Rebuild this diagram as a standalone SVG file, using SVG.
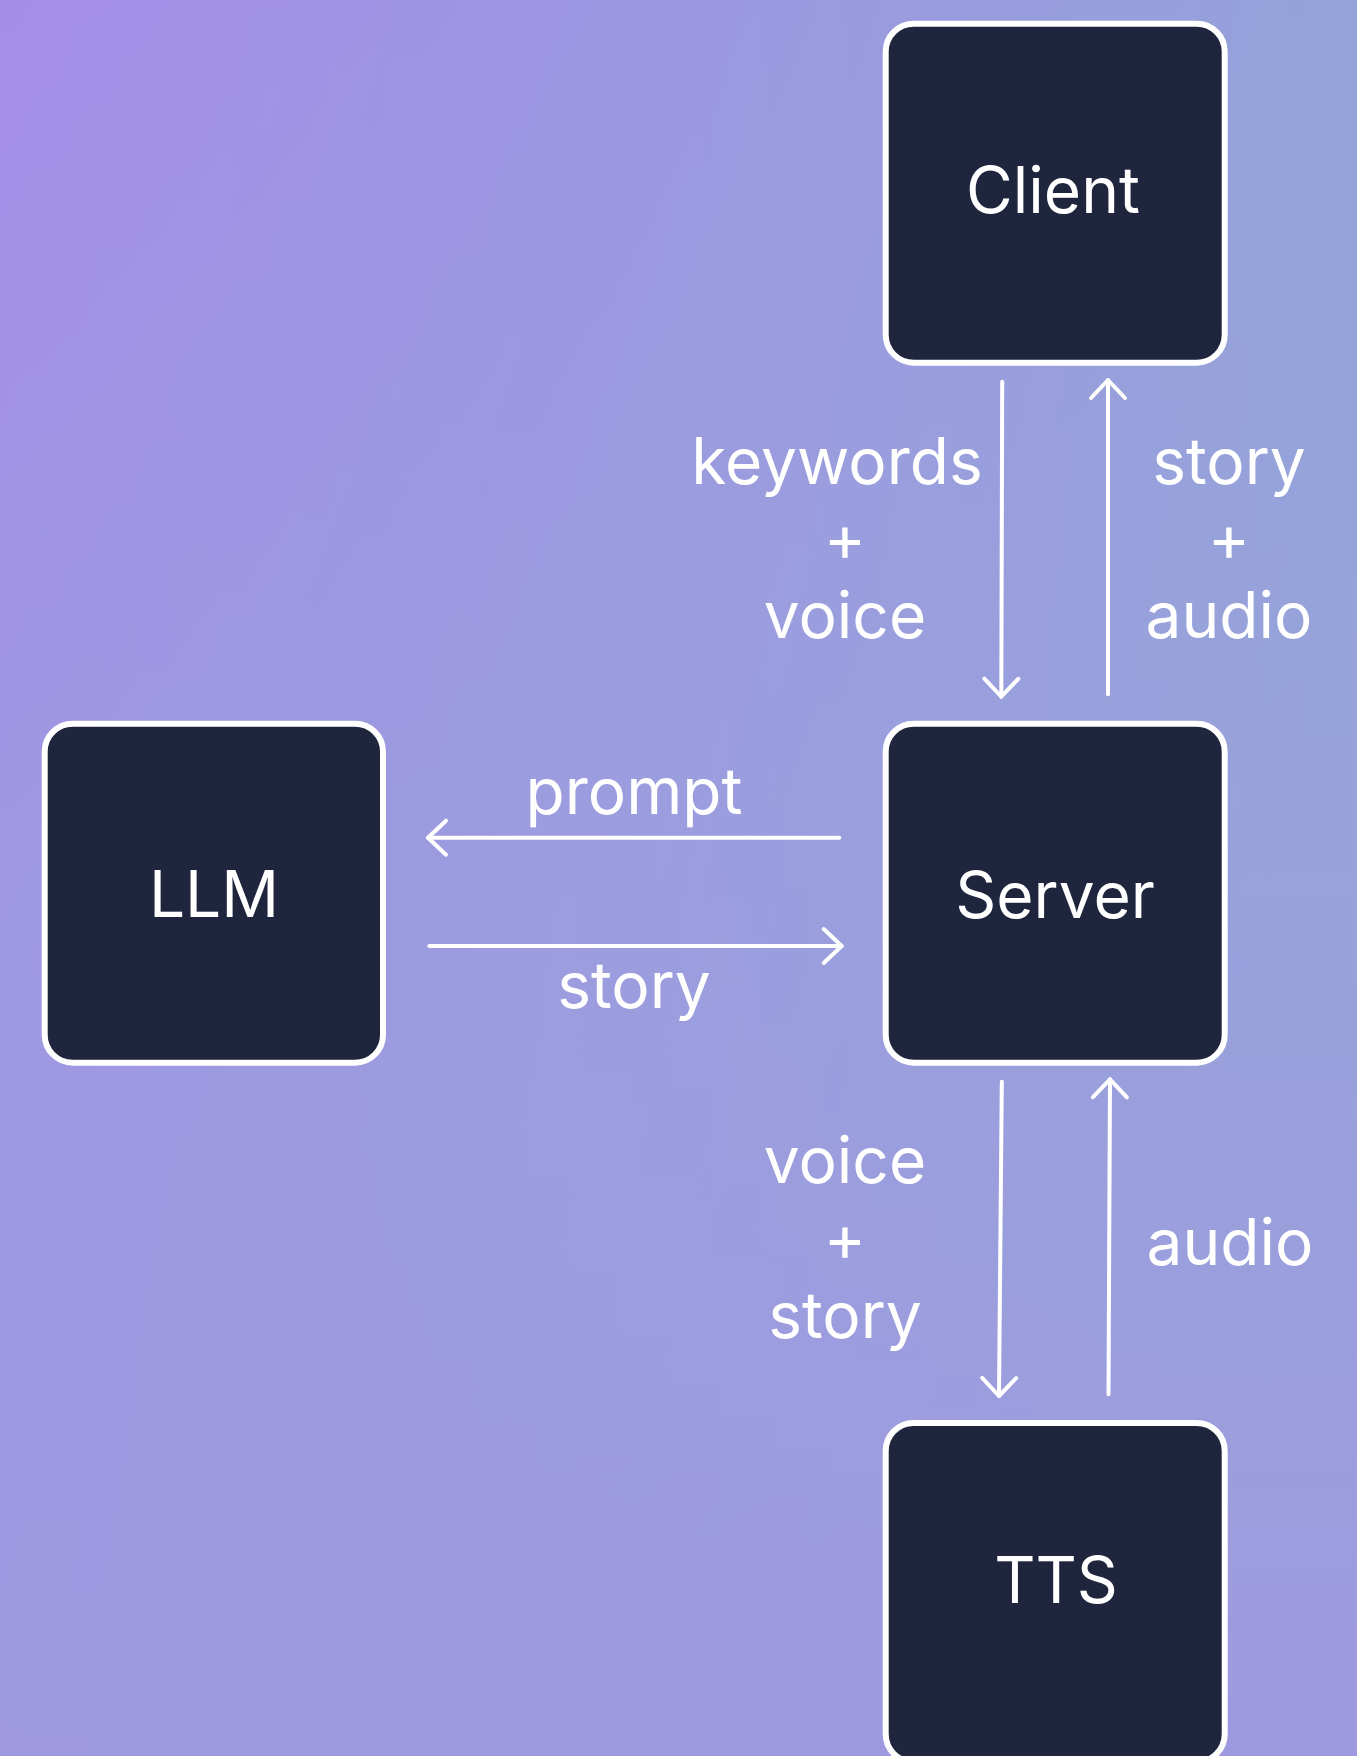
<svg xmlns="http://www.w3.org/2000/svg" width="1357" height="1756" viewBox="0 0 1357 1756">
  <defs>
    <linearGradient id="bg1" x1="0" y1="0" x2="1" y2="0.25">
      <stop offset="0" stop-color="#A48DE9"/>
      <stop offset="1" stop-color="#93A4D8"/>
    </linearGradient>
    <linearGradient id="bg2" x1="0" y1="0" x2="0" y2="1">
      <stop offset="0" stop-color="#9DA0DD" stop-opacity="0"/>
      <stop offset="0.45" stop-color="#9CA0DD" stop-opacity="0.45"/>
      <stop offset="1" stop-color="#9F99E0" stop-opacity="0.95"/>
    </linearGradient>
    <marker id="arr" markerUnits="userSpaceOnUse" viewBox="-22 -22 26 44" refX="0" refY="0" markerWidth="26" markerHeight="44" orient="auto" overflow="visible">
      <path d="M -18 -17 L 0 0 L -18 17" fill="none" stroke="#FFFFFF" stroke-width="4" stroke-linecap="round" stroke-linejoin="round"/>
    </marker>
    <style>
      .box { fill: #1E253D; stroke: #FFFFFF; stroke-width: 6; }
      .node-label { font-family: Inter, "Noto Sans", "Liberation Sans", sans-serif; font-size: 64px; fill: #FFFFFF; text-anchor: middle; }
      .edge-label { font-family: Inter, "Noto Sans", "Liberation Sans", sans-serif; font-size: 64px; fill: #FFFFFF; text-anchor: middle; }
      .edge { fill: none; stroke: #FFFFFF; stroke-width: 4; stroke-linecap: round; marker-end: url(#arr); }
    </style>
  </defs>

  <rect x="0" y="0" width="1357" height="1756" fill="url(#bg1)"/>
  <rect x="0" y="0" width="1357" height="1756" fill="url(#bg2)"/>

  <g id="connectors">
    <path class="edge" d="M 1002.2 381.7 L 1001.3 696.7"/>
    <path class="edge" d="M 1108 694.3 L 1108 380"/>
    <path class="edge" d="M 839.3 837.7 L 428 837.7"/>
    <path class="edge" d="M 429.3 946 L 841.7 946"/>
    <path class="edge" d="M 1001.8 1081.7 L 999 1396"/>
    <path class="edge" d="M 1108.5 1394.3 L 1110 1079.3"/>
    <text class="edge-label" x="837" y="484">keywords</text>
    <text class="edge-label" x="845" y="561">+</text>
    <text class="edge-label" x="845" y="638">voice</text>
    <text class="edge-label" x="1229" y="484">story</text>
    <text class="edge-label" x="1229" y="561">+</text>
    <text class="edge-label" x="1229" y="638">audio</text>
    <text class="edge-label" x="634" y="814">prompt</text>
    <text class="edge-label" x="634" y="1008">story</text>
    <text class="edge-label" x="845" y="1183">voice</text>
    <text class="edge-label" x="845" y="1261">+</text>
    <text class="edge-label" x="845" y="1338">story</text>
    <text class="edge-label" x="1230" y="1265">audio</text>
  </g>

  <g id="client">
    <rect class="box" x="885.7" y="23.7" width="339" height="339" rx="28"/>
    <text class="node-label" x="1053" y="213">Client</text>
  </g>
  <g id="llm">
    <rect class="box" x="44.7" y="723.7" width="338.3" height="339" rx="28"/>
    <text class="node-label" x="214" y="917">LLM</text>
  </g>
  <g id="server">
    <rect class="box" x="885.7" y="723.7" width="339" height="339" rx="28"/>
    <text class="node-label" x="1055" y="918">Server</text>
  </g>
  <g id="tts">
    <rect class="box" x="885.7" y="1423" width="339" height="339" rx="28"/>
    <text class="node-label" x="1056" y="1603">TTS</text>
  </g>
</svg>
